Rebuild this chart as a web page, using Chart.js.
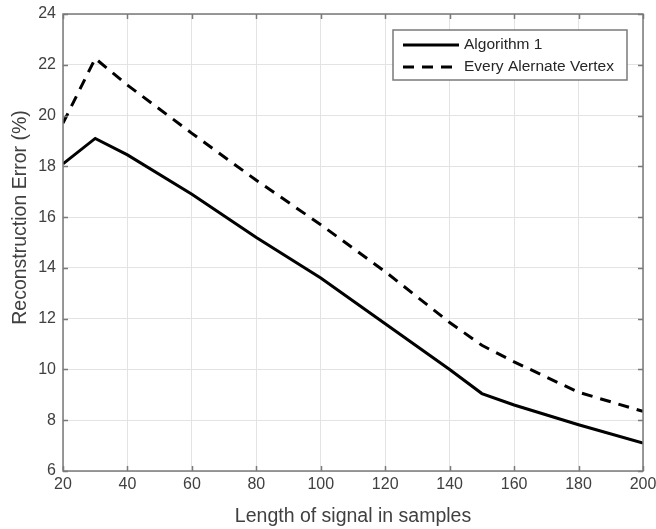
<!DOCTYPE html>
<html>
<head>
<meta charset="utf-8">
<script src="https://cdn.jsdelivr.net/npm/chart.js@4"></script>
<style>
  html, body { margin: 0; padding: 0; background: #fff; }
  #wrap { width: 656px; height: 529px; }
</style>
</head>
<body>
<div id="wrap"><canvas id="chart" width="656" height="529"></canvas></div>
<script>
// Data
const signalLengths = [20, 30, 40, 60, 80, 100, 120, 140, 150, 160, 180, 200]
const algorithm1Error = [18.1, 19.1, 18.45, 16.9, 15.2, 13.6, 11.8, 10.0, 9.05, 8.6, 7.82, 7.1]
const alternateVertexError = [19.7, 22.25, 21.2, 19.3, 17.45, 15.7, 13.85, 11.85, 10.95, 10.3, 9.1, 8.35]
const seriesLabels = ["Algorithm 1", "Every Alernate Vertex"]
const xTicks = [20, 40, 60, 80, 100, 120, 140, 160, 180, 200]
const yTicks = [6, 8, 10, 12, 14, 16, 18, 20, 22, 24]
const xTitle = "Length of signal in samples"
const yTitle = "Reconstruction Error (%)"

const FONT = "'Liberation Sans', Arial, sans-serif"
const TEXT_COLOR = "#404040"
const AXIS_COLOR = "#7a7a7a"

function toPoints(xs, ys) {
  return xs.map((x, i) => ({ x: x, y: ys[i] }))
}

// Box around the axes with inward tick marks (MATLAB style)
const axesBox = {
  id: "axesBox",
  afterDatasetsDraw(chart) {
    const { ctx, chartArea: a, scales } = chart
    const len = 5
    ctx.save()
    ctx.strokeStyle = AXIS_COLOR
    ctx.lineWidth = 1.5
    ctx.beginPath()
    xTicks.forEach((v) => {
      const px = Math.round(scales.x.getPixelForValue(v)) + 0.5
      ctx.moveTo(px, a.bottom)
      ctx.lineTo(px, a.bottom - len)
      ctx.moveTo(px, a.top)
      ctx.lineTo(px, a.top + len)
    })
    yTicks.forEach((v) => {
      const py = Math.round(scales.y.getPixelForValue(v)) + 0.5
      ctx.moveTo(a.left, py)
      ctx.lineTo(a.left + len, py)
      ctx.moveTo(a.right, py)
      ctx.lineTo(a.right - len, py)
    })
    ctx.stroke()
    ctx.strokeRect(a.left, a.top, a.right - a.left, a.bottom - a.top)
    ctx.restore()
  },
}

// Y axis label, sitting a bit above the axis centre like in the original
const yLabel = {
  id: "yLabel",
  afterDraw(chart) {
    const { ctx, chartArea: a } = chart
    ctx.save()
    ctx.translate(21, (a.top + a.bottom) / 2 - 25)
    ctx.rotate(-Math.PI / 2)
    ctx.font = "19.5px " + FONT
    ctx.fillStyle = TEXT_COLOR
    ctx.textAlign = "center"
    ctx.textBaseline = "middle"
    ctx.fillText(yTitle, 0, 0)
    ctx.restore()
  },
}

// Legend box in the upper right corner
const boxLegend = {
  id: "boxLegend",
  afterDraw(chart) {
    const { ctx, chartArea: a } = chart
    const datasets = chart.data.datasets
    const boxW = 234
    const boxH = 50
    const x0 = a.right - 16 - boxW
    const y0 = a.top + 16
    ctx.save()
    ctx.fillStyle = "#fff"
    ctx.fillRect(x0, y0, boxW, boxH)
    ctx.strokeStyle = AXIS_COLOR
    ctx.lineWidth = 1.5
    ctx.strokeRect(x0, y0, boxW, boxH)
    ctx.font = "15.5px " + FONT
    ctx.textBaseline = "middle"
    datasets.forEach((ds, i) => {
      const y = y0 + 15 + i * 22
      ctx.strokeStyle = ds.borderColor
      ctx.lineWidth = ds.borderWidth
      ctx.setLineDash(ds.borderDash || [])
      ctx.beginPath()
      ctx.moveTo(x0 + 10, y)
      ctx.lineTo(x0 + 66, y)
      ctx.stroke()
      ctx.setLineDash([])
      ctx.fillStyle = "#262626"
      ctx.fillText(ds.label, x0 + 71, y)
    })
    ctx.restore()
  },
}

const ctx = document.getElementById("chart").getContext("2d")

new Chart(ctx, {
  type: "line",
  data: {
    datasets: [
      {
        label: seriesLabels[0],
        data: toPoints(signalLengths, algorithm1Error),
        borderColor: "#000",
        borderWidth: 3,
        pointRadius: 0,
        tension: 0,
        fill: false,
      },
      {
        label: seriesLabels[1],
        data: toPoints(signalLengths, alternateVertexError),
        borderColor: "#000",
        borderWidth: 3,
        borderDash: [11, 8],
        pointRadius: 0,
        tension: 0,
        fill: false,
      },
    ],
  },
  options: {
    responsive: false,
    animation: false,
    layout: { padding: { top: 14, right: 13, left: 0, bottom: 0 } },
    plugins: {
      legend: { display: false },
      tooltip: { enabled: false },
    },
    scales: {
      x: {
        type: "linear",
        min: 20,
        max: 200,
        afterBuildTicks: (scale) => {
          scale.ticks = xTicks.map((v) => ({ value: v }))
        },
        afterFit: (scale) => {
          scale.height = 58
          scale.paddingLeft = 0
          scale.paddingRight = 0
        },
        ticks: {
          color: TEXT_COLOR,
          font: { family: FONT, size: 16 },
          padding: 4,
          maxRotation: 0,
          autoSkip: false,
        },
        grid: { color: "#e3e3e3", lineWidth: 1, drawTicks: false },
        border: { display: false },
        title: {
          display: true,
          text: xTitle,
          color: TEXT_COLOR,
          font: { family: FONT, size: 19.5 },
          padding: { top: 0, bottom: 1 },
        },
      },
      y: {
        type: "linear",
        min: 6,
        max: 24,
        afterBuildTicks: (scale) => {
          scale.ticks = yTicks.map((v) => ({ value: v }))
        },
        afterFit: (scale) => {
          scale.width = 63
          scale.paddingTop = 0
        },
        ticks: {
          color: TEXT_COLOR,
          font: { family: FONT, size: 16 },
          padding: 7,
        },
        grid: { color: "#e3e3e3", lineWidth: 1, drawTicks: false },
        border: { display: false },
      },
    },
  },
  plugins: [axesBox, yLabel, boxLegend],
})
</script>
</body>
</html>
